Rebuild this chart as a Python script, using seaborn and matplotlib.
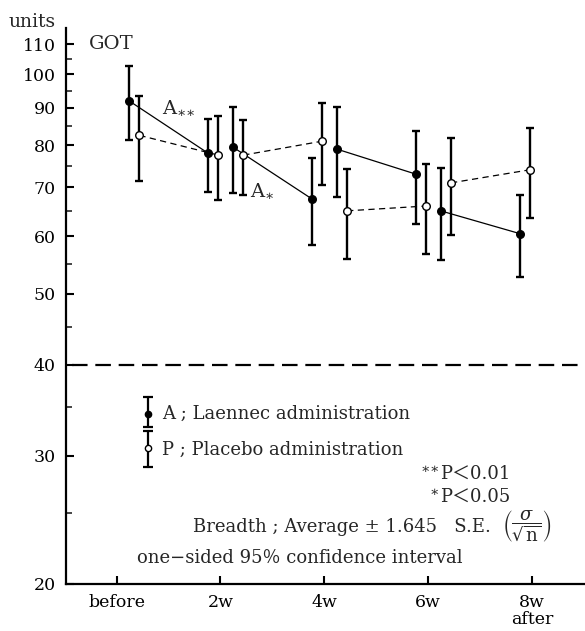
import pandas as pd
import matplotlib
matplotlib.use("Agg")
import matplotlib.pyplot as plt
import seaborn as sns

# GOT (units): mean and 1.645 S.E. half-width
periods = ["before", "2w", "4w", "6w", "8w\nafter"]
seg_start = [0, 1, 2, 3]   # period index where each 2-week interval starts
seg_end = [1, 2, 3, 4]

a_start = [92, 79.5, 79, 65]
a_start_err = [10.6, 10.8, 11.2, 9.4]
a_end = [78, 67.5, 73, 60.5]
a_end_err = [9.0, 9.2, 10.6, 7.8]

p_start = [82.5, 77.5, 65, 71]
p_start_err = [11.0, 9.2, 9.2, 10.7]
p_end = [77.5, 81, 66, 74]
p_end_err = [10.2, 10.5, 9.3, 10.5]

y_major = [20, 30, 40, 50, 60, 70, 80, 90, 100, 110]
y_minor = [25, 35, 45, 55, 65, 75, 85, 95, 105]


def build_frame():
    rows = []
    # small horizontal shifts so the two groups don't overlap
    shift = {"A": (0.12, -0.12), "P": (0.22, -0.02)}
    series = {
        "A": (a_start, a_start_err, a_end, a_end_err),
        "P": (p_start, p_start_err, p_end, p_end_err),
    }
    for g, (s, se, e, ee) in series.items():
        for i in range(len(seg_start)):
            rows.append((g, i, seg_start[i] + shift[g][0], s[i], se[i]))
            rows.append((g, i, seg_end[i] + shift[g][1], e[i], ee[i]))
    return pd.DataFrame(rows, columns=["group", "seg", "x", "mean", "err"])


df = build_frame()

sns.set_style("ticks")
plt.rcParams["font.family"] = ["DejaVu Serif", "Noto Sans CJK JP"]
plt.rcParams["mathtext.fontset"] = "dejavuserif"

fig = plt.figure(figsize=(5.85, 6.31), dpi=100)
ax = fig.add_axes([65.7 / 585, 47 / 631, 519.3 / 585, 556 / 631])

# error bars
for g in ["A", "P"]:
    d = df[df.group == g]
    ax.errorbar(d["x"], d["mean"], yerr=d["err"], fmt="none", ecolor="black",
                elinewidth=1.7, capsize=3.2, capthick=1.7, zorder=2)

# connecting lines, one per 2-week interval
sns.lineplot(data=df, x="x", y="mean", units="seg", estimator=None,
             style="group", dashes={"A": "", "P": (5, 3.5)}, color="black",
             linewidth=0.9, legend=False, sort=False, ax=ax, zorder=3)

sns.scatterplot(data=df[df.group == "A"], x="x", y="mean", color="black",
                edgecolor="black", s=30, linewidth=1, ax=ax, zorder=4)
sns.scatterplot(data=df[df.group == "P"], x="x", y="mean", color="white",
                edgecolor="black", s=30, linewidth=1, ax=ax, zorder=4)

ax.set_yscale("log")
ax.set_ylim(20, 115.8)
ax.set_xlim(-0.49, 4.51)
ax.set_yticks(y_major)
ax.set_yticklabels([str(v) for v in y_major])
ax.set_yticks(y_minor, minor=True)
ax.yaxis.set_minor_formatter(matplotlib.ticker.NullFormatter())
ax.set_xticks(range(len(periods)))
ax.set_xticklabels(periods, linespacing=1.05)
ax.set_xlabel("")
ax.set_ylabel("")

ax.tick_params(axis="both", which="major", direction="in", length=6,
               width=1.5, labelsize=12.5, colors="black")
ax.tick_params(axis="y", which="major", pad=7)
ax.tick_params(axis="x", which="major", pad=7)
ax.tick_params(axis="y", which="minor", direction="in", length=4.5, width=1.2)
for side in ["top", "right"]:
    ax.spines[side].set_visible(False)
for side in ["left", "bottom"]:
    ax.spines[side].set_linewidth(1.6)
    ax.spines[side].set_color("black")

# 40 units reference line
ax.axhline(40, xmin=0.013, color="black", lw=1.6, dashes=(7, 3.5), zorder=1)

fig.text(32 / 585, 1 - 22 / 631, "units", ha="center", va="center", size=13.5)
fig.text(111 / 585, 1 - 44 / 631, "GOT", ha="center", va="center", size=14)

ax.text(0.436, 90, r"A$_{{\ast}{\ast}}$", ha="left", va="center", size=14)
ax.text(1.28, 69.4, r"A$_{\ast}$", ha="left", va="center", size=14)

# legend block
tr = ax.transAxes
gx = 0.159
for top, mid, bot, face in [(0.337, 0.305, 0.283, "black"),
                            (0.275, 0.244, 0.211, "white")]:
    ax.plot([gx, gx], [bot, top], color="black", lw=1.6, transform=tr,
            clip_on=False)
    ax.plot([gx, gx], [bot, top], ls="none", marker="_", ms=7, mew=1.6,
            color="black", transform=tr, clip_on=False)
    ax.plot([gx], [mid], ls="none", marker="o", ms=4.5, mfc=face,
            mec="black", mew=1, transform=tr, clip_on=False, zorder=5)

ts = 13
ax.text(0.1855, 0.306, "A ; Laennec administration", transform=tr,
        ha="left", va="center", size=ts)
ax.text(0.1855, 0.241, "P ; Placebo administration", transform=tr,
        ha="left", va="center", size=ts)

t1 = ax.text(0.856, 0.198, "P＜0.01", transform=tr,
             ha="right", va="center", size=ts)
ax.annotate(r"$\ast\!\ast$", xy=(0, 0.82), xycoords=t1, ha="right",
            va="center", size=10)
t2 = ax.text(0.856, 0.156, "P＜0.05", transform=tr,
             ha="right", va="center", size=ts)
ax.annotate(r"$\ast$ ", xy=(0, 0.82), xycoords=t2, ha="right",
            va="center", size=10)

t3 = ax.text(0.245, 0.1025, "Breadth ; Average ± 1.645   S.E.  ",
             transform=tr, ha="left", va="center", size=ts)
ax.annotate(r"$\left(\dfrac{\sigma}{\sqrt{\mathrm{n}}}\right)$",
            xy=(1, 0.5), xycoords=t3, ha="left", va="center", size=ts)
ax.text(0.137, 0.047, "one−sided 95％ confidence interval", transform=tr,
        ha="left", va="center", size=ts)

fig.savefig("out.png", dpi=100)
